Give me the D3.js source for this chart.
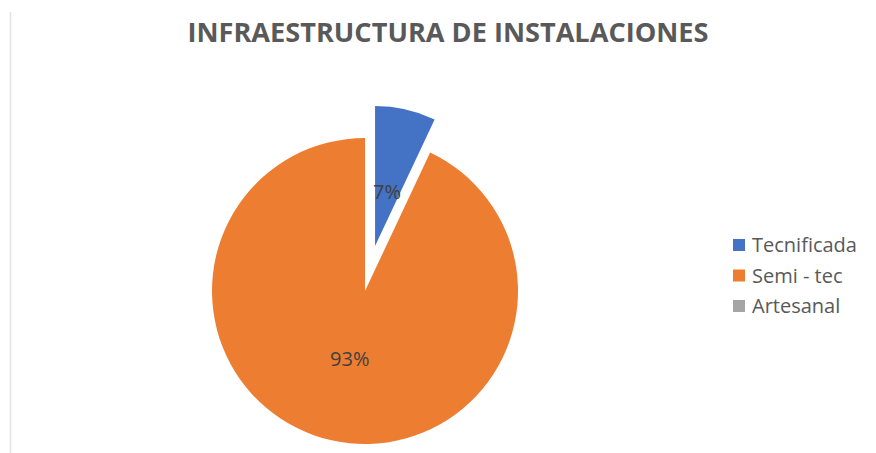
<!DOCTYPE html>
<html>
  <head>
    <meta charset='utf-8' />
    <title>Infraestructura de instalaciones</title>
    <style>
      html, body { margin: 0; padding: 0; background: white; }
      #chart text { font-family: "Open Sans", "Noto Sans", sans-serif; }
    </style>
  </head>
<body>
  <svg id="chart" width="876" height="453"></svg>

  <script src="https://cdn.jsdelivr.net/npm/d3@7/dist/d3.min.js"></script>
  <script>
    // data
    const categories = ["Tecnificada", "Semi - tec", "Artesanal"];
    const values = [7, 93, 0];
    const colors = ["#4472C4", "#ED7D31", "#A5A5A5"];

    const width = 876, height = 453;
    const cx = 365, cy = 291;
    const radius = 153;
    const explodedRadius = 140;   // blue slice is drawn a bit smaller
    const explodeDist = 46;
    const labelDist = [55, 70];

    const svg = d3.select("#chart");

    // thin frame line on the left
    svg.append("line")
      .attr("x1", 10.5).attr("x2", 10.5)
      .attr("y1", 12).attr("y2", height)
      .attr("stroke", "#e3e3e3")
      .attr("stroke-width", 1.5);

    svg.append("text")
      .attr("x", 448)
      .attr("y", 42)
      .attr("text-anchor", "middle")
      .attr("font-size", 27)
      .attr("font-weight", "bold")
      .attr("fill", "#595959")
      .attr("textLength", 521)
      .attr("lengthAdjust", "spacingAndGlyphs")
      .text("INFRAESTRUCTURA DE INSTALACIONES");

    const pieData = d3.pie().sort(null).value(d => d)(values);
    const total = d3.sum(values);

    const g = svg.append("g").attr("transform", `translate(${cx},${cy})`);

    const slices = g.selectAll("g.slice")
      .data(pieData.filter(d => d.value > 0))
      .enter()
      .append("g")
      .attr("class", "slice")
      .attr("transform", d => {
        if (d.index !== 0) return null;
        const mid = (d.startAngle + d.endAngle) / 2;
        return `translate(${Math.sin(mid) * explodeDist},${-Math.cos(mid) * explodeDist})`;
      });

    slices.append("path")
      .attr("d", d => d3.arc().innerRadius(0)
        .outerRadius(d.index === 0 ? explodedRadius : radius)(d))
      .attr("fill", d => colors[d.index]);

    slices.append("text")
      .attr("x", d => Math.sin((d.startAngle + d.endAngle) / 2) * labelDist[d.index])
      .attr("y", d => -Math.cos((d.startAngle + d.endAngle) / 2) * labelDist[d.index])
      .attr("dy", "0.35em")
      .attr("text-anchor", "middle")
      .attr("font-size", 20)
      .attr("fill", "#404040")
      .text(d => Math.round(d.value / total * 100) + "%");

    // legend
    const legendY = d3.scalePoint().domain(categories).range([245, 306]);
    const legend = svg.append("g").selectAll("g")
      .data(categories)
      .enter()
      .append("g")
      .attr("transform", d => `translate(733,${legendY(d)})`);

    legend.append("rect")
      .attr("x", 0).attr("y", -6)
      .attr("width", 12).attr("height", 12)
      .attr("fill", (d, i) => colors[i]);

    legend.append("text")
      .attr("x", 19)
      .attr("dy", "0.35em")
      .attr("font-size", 20)
      .attr("fill", "#595959")
      .text(d => d);
  </script>
</body>
</html>
